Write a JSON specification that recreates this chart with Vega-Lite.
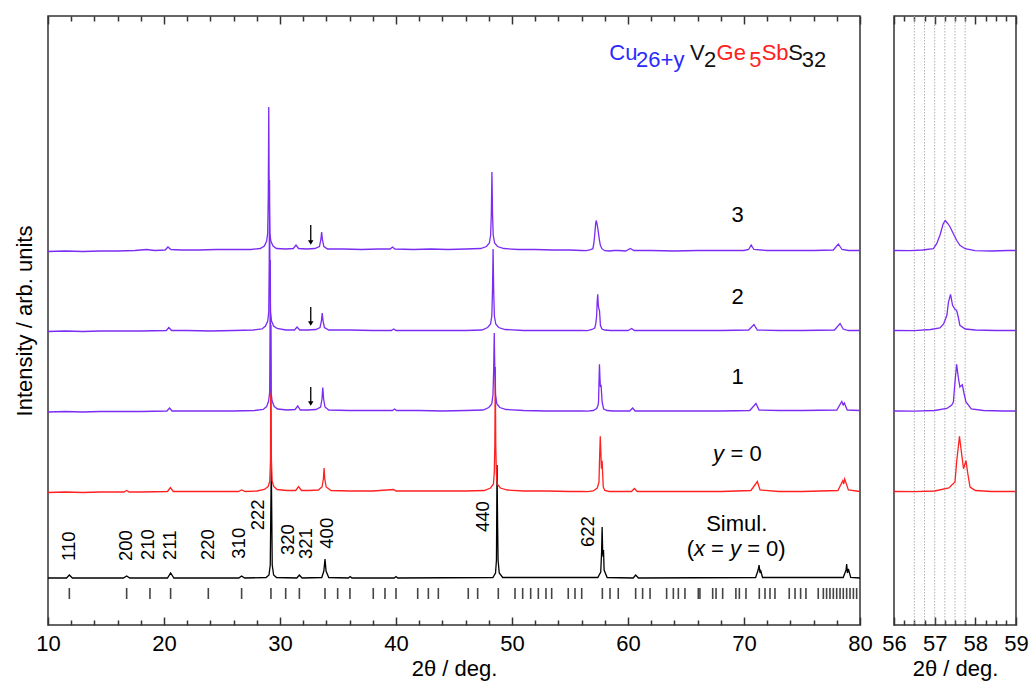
{
  "$schema": "https://vega.github.io/schema/vega-lite/v6.json",
  "background": "white",
  "padding": {"left": 12, "top": 14, "right": 2, "bottom": 5},
  "spacing": 34,
  "bounds": "flush",
  "config": {
    "font": "Liberation Sans",
    "view": {"stroke": "#333", "strokeWidth": 1.5},
    "axis": {"domain": false, "grid": false, "tickColor": "#333", "tickWidth": 1.5, "labelColor": "#000", "titleColor": "#000", "labelFontSize": 22, "titleFontSize": 22, "titleFontWeight": "normal", "labelFont": "Liberation Sans", "titleFont": "Liberation Sans", "labelFlush": false, "labelOverlap": false}
  },
  "datasets": {
    "xrd": [
      {"s":"3","x":10,"y":373.5},{"s":"3","x":11.5,"y":374},{"s":"3","x":13,"y":373.5},{"s":"3","x":14.5,"y":374},{"s":"3","x":16,"y":374},{"s":"3","x":17.5,"y":374.5},{"s":"3","x":18.5,"y":375.5},{"s":"3","x":19.2,"y":374.5},{"s":"3","x":20.1,"y":375},{"s":"3","x":20.34,"y":378},{"s":"3","x":20.6,"y":375.5},{"s":"3","x":21.5,"y":375},{"s":"3","x":23,"y":375},{"s":"3","x":24.5,"y":375.5},{"s":"3","x":26,"y":375.5},{"s":"3","x":27.5,"y":375.5},{"s":"3","x":28.3,"y":376.5},{"s":"3","x":28.65,"y":379},{"s":"3","x":28.85,"y":384},{"s":"3","x":28.94,"y":392},{"s":"3","x":28.99,"y":430},{"s":"3","x":29.03,"y":518},{"s":"3","x":29.07,"y":430},{"s":"3","x":29.12,"y":392},{"s":"3","x":29.21,"y":384},{"s":"3","x":29.4,"y":379},{"s":"3","x":29.7,"y":376.5},{"s":"3","x":30.5,"y":376},{"s":"3","x":31.15,"y":376.5},{"s":"3","x":31.38,"y":380},{"s":"3","x":31.6,"y":376.5},{"s":"3","x":32.3,"y":376},{"s":"3","x":33.0,"y":376.5},{"s":"3","x":33.4,"y":378.5},{"s":"3","x":33.52,"y":385},{"s":"3","x":33.59,"y":393},{"s":"3","x":33.66,"y":385},{"s":"3","x":33.78,"y":378.5},{"s":"3","x":34.1,"y":376},{"s":"3","x":35.5,"y":376},{"s":"3","x":37,"y":375.5},{"s":"3","x":38.5,"y":376},{"s":"3","x":39.5,"y":376},{"s":"3","x":39.7,"y":378},{"s":"3","x":39.9,"y":376},{"s":"3","x":41.5,"y":375.5},{"s":"3","x":43,"y":376},{"s":"3","x":44.5,"y":375.5},{"s":"3","x":46,"y":376},{"s":"3","x":47.3,"y":376.5},{"s":"3","x":47.8,"y":378.5},{"s":"3","x":48.05,"y":382},{"s":"3","x":48.16,"y":390},{"s":"3","x":48.22,"y":412},{"s":"3","x":48.27,"y":453},{"s":"3","x":48.32,"y":412},{"s":"3","x":48.38,"y":390},{"s":"3","x":48.5,"y":382},{"s":"3","x":48.75,"y":378.5},{"s":"3","x":49.3,"y":376.5},{"s":"3","x":50.5,"y":375.5},{"s":"3","x":52,"y":375.5},{"s":"3","x":53.5,"y":375},{"s":"3","x":55,"y":375},{"s":"3","x":56.0,"y":374.5},{"s":"3","x":56.4,"y":374.3},{"s":"3","x":56.7,"y":375},{"s":"3","x":56.97,"y":376.3},{"s":"3","x":57.05,"y":381.3},{"s":"3","x":57.13,"y":389.7},{"s":"3","x":57.21,"y":401.3},{"s":"3","x":57.26,"y":404.5},{"s":"3","x":57.32,"y":401.5},{"s":"3","x":57.38,"y":398},{"s":"3","x":57.46,"y":391.3},{"s":"3","x":57.54,"y":384.7},{"s":"3","x":57.62,"y":379.7},{"s":"3","x":57.75,"y":376.3},{"s":"3","x":57.99,"y":374.3},{"s":"3","x":58.4,"y":374},{"s":"3","x":58.8,"y":374.5},{"s":"3","x":59.2,"y":374.5},{"s":"3","x":59.8,"y":374},{"s":"3","x":60.2,"y":376.5},{"s":"3","x":60.5,"y":374.5},{"s":"3","x":62,"y":374.5},{"s":"3","x":64,"y":374},{"s":"3","x":66,"y":374.5},{"s":"3","x":68,"y":374.5},{"s":"3","x":70.0,"y":374.5},{"s":"3","x":70.4,"y":375.5},{"s":"3","x":70.62,"y":380},{"s":"3","x":70.85,"y":375.5},{"s":"3","x":72,"y":374.5},{"s":"3","x":74,"y":374.5},{"s":"3","x":76,"y":374.5},{"s":"3","x":77.7,"y":375},{"s":"3","x":78.13,"y":381},{"s":"3","x":78.45,"y":375.5},{"s":"3","x":79,"y":374.5},{"s":"3","x":80,"y":374.5},

      {"s":"2","x":10,"y":293.5},{"s":"2","x":11.5,"y":294},{"s":"2","x":13,"y":293.5},{"s":"2","x":14.5,"y":294},{"s":"2","x":16,"y":294},{"s":"2","x":18,"y":294},{"s":"2","x":20.2,"y":294.5},{"s":"2","x":20.42,"y":297.5},{"s":"2","x":20.65,"y":294.5},{"s":"2","x":22,"y":294.5},{"s":"2","x":24,"y":294},{"s":"2","x":26,"y":294.5},{"s":"2","x":27.7,"y":295},{"s":"2","x":28.45,"y":296},{"s":"2","x":28.75,"y":299},{"s":"2","x":28.94,"y":304},{"s":"2","x":29.03,"y":313},{"s":"2","x":29.07,"y":360},{"s":"2","x":29.1,"y":445},{"s":"2","x":29.13,"y":360},{"s":"2","x":29.18,"y":313},{"s":"2","x":29.27,"y":304},{"s":"2","x":29.45,"y":299},{"s":"2","x":29.75,"y":296.5},{"s":"2","x":30.5,"y":295},{"s":"2","x":31.25,"y":295},{"s":"2","x":31.47,"y":298},{"s":"2","x":31.7,"y":295},{"s":"2","x":32.4,"y":295},{"s":"2","x":33.1,"y":295.5},{"s":"2","x":33.45,"y":297.5},{"s":"2","x":33.57,"y":304},{"s":"2","x":33.64,"y":312},{"s":"2","x":33.71,"y":304},{"s":"2","x":33.83,"y":297.5},{"s":"2","x":34.2,"y":295},{"s":"2","x":36,"y":295},{"s":"2","x":38,"y":294.5},{"s":"2","x":39.6,"y":294.5},{"s":"2","x":39.8,"y":296},{"s":"2","x":40,"y":294.5},{"s":"2","x":42,"y":294.5},{"s":"2","x":44,"y":294.5},{"s":"2","x":46,"y":294.5},{"s":"2","x":47.4,"y":295},{"s":"2","x":47.9,"y":297.5},{"s":"2","x":48.15,"y":301},{"s":"2","x":48.26,"y":309},{"s":"2","x":48.32,"y":335},{"s":"2","x":48.37,"y":376},{"s":"2","x":48.42,"y":335},{"s":"2","x":48.48,"y":309},{"s":"2","x":48.6,"y":301},{"s":"2","x":48.85,"y":297.5},{"s":"2","x":49.4,"y":295.5},{"s":"2","x":51,"y":294.5},{"s":"2","x":53,"y":294.5},{"s":"2","x":55,"y":294.5},{"s":"2","x":56,"y":294.5},{"s":"2","x":56.5,"y":294.3},{"s":"2","x":56.9,"y":295.5},{"s":"2","x":57.13,"y":297},{"s":"2","x":57.22,"y":301},{"s":"2","x":57.3,"y":309.7},{"s":"2","x":57.34,"y":323},{"s":"2","x":57.39,"y":330.7},{"s":"2","x":57.44,"y":319.7},{"s":"2","x":57.5,"y":315.7},{"s":"2","x":57.54,"y":314.7},{"s":"2","x":57.58,"y":308},{"s":"2","x":57.62,"y":299.7},{"s":"2","x":57.75,"y":296},{"s":"2","x":58.0,"y":295},{"s":"2","x":58.5,"y":294.5},{"s":"2","x":59,"y":294.5},{"s":"2","x":60,"y":294.5},{"s":"2","x":60.32,"y":296.5},{"s":"2","x":60.55,"y":294.5},{"s":"2","x":62,"y":294.5},{"s":"2","x":64,"y":294.5},{"s":"2","x":66,"y":294.5},{"s":"2","x":68,"y":294.5},{"s":"2","x":70.4,"y":295},{"s":"2","x":70.86,"y":300.5},{"s":"2","x":71.15,"y":295},{"s":"2","x":73,"y":294.5},{"s":"2","x":75,"y":294.5},{"s":"2","x":77.8,"y":295},{"s":"2","x":78.28,"y":301.5},{"s":"2","x":78.55,"y":296},{"s":"2","x":79,"y":294.5},{"s":"2","x":80,"y":294.5},

      {"s":"1","x":10,"y":213},{"s":"1","x":11.5,"y":213.5},{"s":"1","x":13,"y":213},{"s":"1","x":14.5,"y":213.5},{"s":"1","x":16,"y":213.5},{"s":"1","x":18,"y":213.5},{"s":"1","x":20.25,"y":214},{"s":"1","x":20.48,"y":217},{"s":"1","x":20.7,"y":214},{"s":"1","x":22,"y":214},{"s":"1","x":24,"y":214},{"s":"1","x":26,"y":214},{"s":"1","x":27.8,"y":214.5},{"s":"1","x":28.55,"y":215.5},{"s":"1","x":28.85,"y":218.5},{"s":"1","x":29.02,"y":224},{"s":"1","x":29.11,"y":233},{"s":"1","x":29.14,"y":290},{"s":"1","x":29.16,"y":365},{"s":"1","x":29.19,"y":290},{"s":"1","x":29.23,"y":233},{"s":"1","x":29.32,"y":224},{"s":"1","x":29.5,"y":218.5},{"s":"1","x":29.8,"y":216},{"s":"1","x":30.6,"y":215},{"s":"1","x":31.3,"y":215.5},{"s":"1","x":31.53,"y":219},{"s":"1","x":31.75,"y":215},{"s":"1","x":32.4,"y":215},{"s":"1","x":33.1,"y":215.5},{"s":"1","x":33.5,"y":218},{"s":"1","x":33.62,"y":226},{"s":"1","x":33.69,"y":237.5},{"s":"1","x":33.76,"y":226},{"s":"1","x":33.88,"y":218},{"s":"1","x":34.2,"y":215},{"s":"1","x":36,"y":214.5},{"s":"1","x":38,"y":214.5},{"s":"1","x":39.7,"y":214.5},{"s":"1","x":39.88,"y":216},{"s":"1","x":40.05,"y":214.5},{"s":"1","x":42,"y":214.5},{"s":"1","x":44,"y":214},{"s":"1","x":46,"y":214.5},{"s":"1","x":47.5,"y":215},{"s":"1","x":48.0,"y":217.5},{"s":"1","x":48.25,"y":221},{"s":"1","x":48.36,"y":230},{"s":"1","x":48.42,"y":255},{"s":"1","x":48.47,"y":292},{"s":"1","x":48.52,"y":255},{"s":"1","x":48.58,"y":230},{"s":"1","x":48.7,"y":221},{"s":"1","x":48.95,"y":217.5},{"s":"1","x":49.5,"y":215.5},{"s":"1","x":51,"y":214.5},{"s":"1","x":53,"y":214},{"s":"1","x":55,"y":214},{"s":"1","x":56,"y":214},{"s":"1","x":56.5,"y":213.8},{"s":"1","x":57.0,"y":214.5},{"s":"1","x":57.3,"y":216.5},{"s":"1","x":57.42,"y":220},{"s":"1","x":57.46,"y":223},{"s":"1","x":57.5,"y":243},{"s":"1","x":57.54,"y":260.7},{"s":"1","x":57.58,"y":248},{"s":"1","x":57.62,"y":238},{"s":"1","x":57.68,"y":240.3},{"s":"1","x":57.72,"y":232},{"s":"1","x":57.77,"y":223},{"s":"1","x":57.9,"y":216},{"s":"1","x":58.2,"y":214.5},{"s":"1","x":58.7,"y":214},{"s":"1","x":59.2,"y":214},{"s":"1","x":60.15,"y":214},{"s":"1","x":60.4,"y":217},{"s":"1","x":60.62,"y":214},{"s":"1","x":62,"y":214},{"s":"1","x":64,"y":214},{"s":"1","x":66,"y":214},{"s":"1","x":68,"y":214},{"s":"1","x":70.5,"y":214.5},{"s":"1","x":71.03,"y":221.5},{"s":"1","x":71.3,"y":215},{"s":"1","x":73,"y":214.5},{"s":"1","x":75,"y":214.5},{"s":"1","x":78.0,"y":215},{"s":"1","x":78.43,"y":223.5},{"s":"1","x":78.55,"y":220},{"s":"1","x":78.65,"y":222},{"s":"1","x":78.9,"y":215},{"s":"1","x":80,"y":214.5},

      {"s":"0","x":10,"y":132.5},{"s":"0","x":11.5,"y":133},{"s":"0","x":13,"y":132.5},{"s":"0","x":14.5,"y":133},{"s":"0","x":16.55,"y":133},{"s":"0","x":16.78,"y":134.5},{"s":"0","x":17,"y":133},{"s":"0","x":18,"y":133},{"s":"0","x":20.3,"y":133.5},{"s":"0","x":20.55,"y":137.5},{"s":"0","x":20.8,"y":133.5},{"s":"0","x":22,"y":133.5},{"s":"0","x":24,"y":133.5},{"s":"0","x":26.4,"y":133.5},{"s":"0","x":26.7,"y":135},{"s":"0","x":27,"y":133.5},{"s":"0","x":28.0,"y":134},{"s":"0","x":28.65,"y":135.5},{"s":"0","x":28.98,"y":138.5},{"s":"0","x":29.12,"y":144},{"s":"0","x":29.18,"y":165},{"s":"0","x":29.22,"y":300},{"s":"0","x":29.26,"y":165},{"s":"0","x":29.32,"y":144},{"s":"0","x":29.46,"y":138.5},{"s":"0","x":29.75,"y":135.5},{"s":"0","x":30.6,"y":134.5},{"s":"0","x":31.35,"y":134.5},{"s":"0","x":31.6,"y":138.5},{"s":"0","x":31.85,"y":134.5},{"s":"0","x":32.5,"y":134.5},{"s":"0","x":33.3,"y":135},{"s":"0","x":33.62,"y":138},{"s":"0","x":33.74,"y":146},{"s":"0","x":33.8,"y":157},{"s":"0","x":33.86,"y":146},{"s":"0","x":33.98,"y":138},{"s":"0","x":34.4,"y":134.5},{"s":"0","x":36,"y":134},{"s":"0","x":38,"y":134},{"s":"0","x":39.8,"y":135.5},{"s":"0","x":40.0,"y":134},{"s":"0","x":42,"y":134},{"s":"0","x":44,"y":134},{"s":"0","x":46,"y":134},{"s":"0","x":47.6,"y":134.5},{"s":"0","x":48.15,"y":137},{"s":"0","x":48.4,"y":141},{"s":"0","x":48.47,"y":152},{"s":"0","x":48.52,"y":180},{"s":"0","x":48.56,"y":258},{"s":"0","x":48.6,"y":180},{"s":"0","x":48.65,"y":152},{"s":"0","x":48.72,"y":141},{"s":"0","x":49.0,"y":137},{"s":"0","x":49.6,"y":135},{"s":"0","x":51,"y":134},{"s":"0","x":53,"y":134},{"s":"0","x":55,"y":133.5},{"s":"0","x":56,"y":133.5},{"s":"0","x":56.5,"y":133.3},{"s":"0","x":57.0,"y":134},{"s":"0","x":57.35,"y":137},{"s":"0","x":57.5,"y":143},{"s":"0","x":57.54,"y":163},{"s":"0","x":57.61,"y":188.7},{"s":"0","x":57.66,"y":172},{"s":"0","x":57.71,"y":156.3},{"s":"0","x":57.77,"y":164.3},{"s":"0","x":57.82,"y":150},{"s":"0","x":57.87,"y":138},{"s":"0","x":58.0,"y":134.5},{"s":"0","x":58.4,"y":133.5},{"s":"0","x":59,"y":133.5},{"s":"0","x":60.3,"y":133.5},{"s":"0","x":60.55,"y":136.5},{"s":"0","x":60.8,"y":133.5},{"s":"0","x":62,"y":133.5},{"s":"0","x":64,"y":133.5},{"s":"0","x":66,"y":133.5},{"s":"0","x":68,"y":133.5},{"s":"0","x":70.6,"y":134.5},{"s":"0","x":71.15,"y":143.5},{"s":"0","x":71.38,"y":135},{"s":"0","x":73,"y":133.5},{"s":"0","x":75,"y":133.5},{"s":"0","x":78.1,"y":134.5},{"s":"0","x":78.52,"y":144.5},{"s":"0","x":78.6,"y":141},{"s":"0","x":78.68,"y":146},{"s":"0","x":79.0,"y":135},{"s":"0","x":80,"y":133.5},

      {"s":"sim","x":10,"y":47},{"s":"sim","x":11.6,"y":47},{"s":"sim","x":11.84,"y":50},{"s":"sim","x":12.1,"y":47},{"s":"sim","x":16.5,"y":47},{"s":"sim","x":16.78,"y":49},{"s":"sim","x":17.05,"y":47},{"s":"sim","x":20.3,"y":47},{"s":"sim","x":20.57,"y":52},{"s":"sim","x":20.85,"y":47},{"s":"sim","x":26.45,"y":47},{"s":"sim","x":26.69,"y":49},{"s":"sim","x":26.95,"y":47},{"s":"sim","x":28.8,"y":47.5},{"s":"sim","x":29.05,"y":50},{"s":"sim","x":29.16,"y":60},{"s":"sim","x":29.25,"y":160},{"s":"sim","x":29.33,"y":60},{"s":"sim","x":29.45,"y":50},{"s":"sim","x":29.7,"y":47.5},{"s":"sim","x":31.45,"y":47},{"s":"sim","x":31.67,"y":50},{"s":"sim","x":31.9,"y":47},{"s":"sim","x":33.6,"y":47.5},{"s":"sim","x":33.78,"y":54},{"s":"sim","x":33.88,"y":66},{"s":"sim","x":33.97,"y":54},{"s":"sim","x":34.2,"y":47.5},{"s":"sim","x":35.9,"y":47},{"s":"sim","x":36.05,"y":48.5},{"s":"sim","x":36.2,"y":47},{"s":"sim","x":39.85,"y":47},{"s":"sim","x":40.0,"y":48.5},{"s":"sim","x":40.15,"y":47},{"s":"sim","x":48.35,"y":47.5},{"s":"sim","x":48.58,"y":52},{"s":"sim","x":48.66,"y":65},{"s":"sim","x":48.71,"y":160},{"s":"sim","x":48.76,"y":100},{"s":"sim","x":48.8,"y":65},{"s":"sim","x":48.9,"y":52},{"s":"sim","x":49.2,"y":47.5},{"s":"sim","x":57.4,"y":47.5},{"s":"sim","x":57.65,"y":53},{"s":"sim","x":57.72,"y":72},{"s":"sim","x":57.77,"y":98},{"s":"sim","x":57.82,"y":72},{"s":"sim","x":57.86,"y":68},{"s":"sim","x":57.89,"y":75},{"s":"sim","x":57.94,"y":55},{"s":"sim","x":58.2,"y":47.5},{"s":"sim","x":60.45,"y":47},{"s":"sim","x":60.66,"y":50},{"s":"sim","x":60.9,"y":47},{"s":"sim","x":71.0,"y":47.5},{"s":"sim","x":71.22,"y":55},{"s":"sim","x":71.3,"y":60},{"s":"sim","x":71.38,"y":52},{"s":"sim","x":71.45,"y":54},{"s":"sim","x":71.6,"y":47.5},{"s":"sim","x":78.55,"y":47.5},{"s":"sim","x":78.8,"y":55},{"s":"sim","x":78.85,"y":61},{"s":"sim","x":78.92,"y":52},{"s":"sim","x":79.0,"y":56},{"s":"sim","x":79.2,"y":47.5},{"s":"sim","x":80,"y":47}
    ],
    "refl": [
      {"x":11.84},{"x":16.78},{"x":18.79},{"x":20.57},{"x":23.82},{"x":26.69},{"x":29.22},{"x":30.49},{"x":31.67},{"x":33.88},{"x":34.97},{"x":36.03},{"x":38.04},{"x":39.05},{"x":40.0},{"x":41.87},{"x":42.79},{"x":43.65},{"x":46.23},{"x":47.04},{"x":48.82},{"x":50.26},{"x":50.92},{"x":51.61},{"x":52.27},{"x":52.93},{"x":53.42},{"x":54.85},{"x":55.43},{"x":56.01},{"x":57.79},{"x":58.45},{"x":59.16},{"x":60.66},{"x":61.26},{"x":61.9},{"x":63.33},{"x":63.91},{"x":64.34},{"x":64.91},{"x":66.06},{"x":66.2},{"x":67.3},{"x":67.59},{"x":68.16},{"x":69.3},{"x":69.6},{"x":70.17},{"x":71.32},{"x":71.81},{"x":72.24},{"x":72.67},{"x":73.9},{"x":74.4},{"x":74.88},{"x":75.34},{"x":76.4},{"x":76.84},{"x":77.12},{"x":77.41},{"x":77.7},{"x":77.99},{"x":78.28},{"x":78.56},{"x":78.85},{"x":79.14},{"x":79.43},{"x":79.71}
    ],
    "hkl": [
      {"t":"110","x":11.84,"y":64},{"t":"200","x":16.72,"y":64},{"t":"210","x":18.6,"y":65},{"t":"211","x":20.54,"y":65},{"t":"220","x":23.78,"y":65},{"t":"310","x":26.45,"y":66.3},{"t":"222","x":28.1,"y":94.7},{"t":"320","x":30.69,"y":70},{"t":"321","x":32.27,"y":66},{"t":"400","x":34.02,"y":76.3},{"t":"440","x":47.53,"y":93},{"t":"622","x":56.58,"y":78}
    ],
    "centered": [
      {"t":"3","x":69.45,"y":410},{"t":"2","x":69.45,"y":328},{"t":"1","x":69.45,"y":248},{"t":"Simul.","x":69.37,"y":101.3}
    ],
    "plain": [
      {"t":"(","x":65.06,"y":76.3},{"t":"=","x":67.16,"y":76.3},{"t":"= 0)","x":70.27,"y":76.3},{"t":"= 0","x":68.83,"y":171.3}
    ],
    "ital": [
      {"t":"x","x":65.69,"y":76.3},{"t":"y","x":68.79,"y":76.3},{"t":"y","x":67.33,"y":171.3}
    ],
    "formula": [
      {"t":"Cu","x":58.39,"c":"blue","part":"main"},{"t":"26+y","x":60.7,"c":"blue","part":"sub"},{"t":"V","x":65.34,"c":"black","part":"main"},{"t":"2","x":66.55,"c":"black","part":"sub"},{"t":"Ge","x":67.64,"c":"red","part":"main"},{"t":"5","x":70.46,"c":"red","part":"sub"},{"t":"Sb","x":71.52,"c":"red","part":"main"},{"t":"S","x":73.82,"c":"black","part":"main"},{"t":"32","x":74.97,"c":"black","part":"sub"}
    ],
    "arrows": [
      {"x":32.65,"top":400,"head":382.5},{"x":32.65,"top":318,"head":301.5},{"x":32.65,"top":238,"head":221.5}
    ],
    "grid": [
      {"x":56.5},{"x":56.75},{"x":57.0},{"x":57.25},{"x":57.5},{"x":57.75}
    ]
  },
  "hconcat": [
    {
      "width": 812,
      "height": 609,
      "resolve": {"axis": {"x": "independent", "y": "independent"}},
      "layer": [
        {
          "data": {"name": "xrd"},
          "transform": [{"filter": "datum.s == 'sim'"}],
          "mark": {"type": "line", "color": "#000", "strokeWidth": 1.3},
          "encoding": {
            "x": {"field": "x", "type": "quantitative", "scale": {"domain": [10, 80], "nice": false, "zero": false},
                  "axis": {"orient": "bottom", "values": [10,20,30,40,50,60,70,80], "tickSize": -8, "labelPadding": 16, "title": "2θ / deg.", "titlePadding": 4}},
            "y": {"field": "y", "type": "quantitative", "scale": {"domain": [0, 609], "nice": false, "zero": false},
                  "axis": {"orient": "left", "ticks": false, "labels": false, "title": "Intensity / arb. units", "titlePadding": 12}}
          }
        },
        {
          "data": {"name": "xrd"},
          "transform": [{"filter": "datum.s == '0'"}],
          "mark": {"type": "line", "color": "#ff2020", "strokeWidth": 1.3},
          "encoding": {
            "x": {"field": "x", "type": "quantitative", "scale": {"domain": [10, 80], "nice": false, "zero": false},
                  "axis": {"orient": "top", "values": [10,20,30,40,50,60,70,80], "tickSize": -8, "labels": false, "title": null}},
            "y": {"field": "y", "type": "quantitative", "axis": null}
          }
        },
        {
          "data": {"name": "xrd"},
          "transform": [{"filter": "datum.s == '1' || datum.s == '2' || datum.s == '3'"}],
          "mark": {"type": "line", "color": "#7b2cf2", "strokeWidth": 1.3},
          "encoding": {
            "detail": {"field": "s", "type": "nominal"},
            "x": {"field": "x", "type": "quantitative", "scale": {"domain": [10, 80], "nice": false, "zero": false},
                  "axis": {"orient": "bottom", "values": [12,14,16,18,22,24,26,28,32,34,36,38,42,44,46,48,52,54,56,58,62,64,66,68,72,74,76,78], "tickSize": -5, "labels": false, "title": null}},
            "y": {"field": "y", "type": "quantitative", "axis": null}
          }
        },
        {
          "data": {"name": "refl"},
          "mark": {"type": "rule", "color": "#444", "strokeWidth": 1.6},
          "encoding": {
            "x": {"field": "x", "type": "quantitative", "scale": {"domain": [10, 80], "nice": false, "zero": false},
                  "axis": {"orient": "top", "values": [12,14,16,18,22,24,26,28,32,34,36,38,42,44,46,48,52,54,56,58,62,64,66,68,72,74,76,78], "tickSize": -5, "labels": false, "title": null}},
            "y": {"datum": 26, "type": "quantitative", "axis": null},
            "y2": {"datum": 37}
          }
        },
        {
          "data": {"name": "hkl"},
          "mark": {"type": "text", "angle": 270, "align": "left", "baseline": "middle", "fontSize": 18.5, "color": "#000"},
          "encoding": {
            "x": {"field": "x", "type": "quantitative", "axis": null},
            "y": {"field": "y", "type": "quantitative", "axis": null},
            "text": {"field": "t"}
          }
        },
        {
          "data": {"name": "centered"},
          "mark": {"type": "text", "align": "center", "baseline": "middle", "fontSize": 22, "color": "#000"},
          "encoding": {
            "x": {"field": "x", "type": "quantitative", "axis": null},
            "y": {"field": "y", "type": "quantitative", "axis": null},
            "text": {"field": "t"}
          }
        },
        {
          "data": {"name": "plain"},
          "mark": {"type": "text", "align": "left", "baseline": "middle", "fontSize": 22, "color": "#000"},
          "encoding": {
            "x": {"field": "x", "type": "quantitative", "axis": null},
            "y": {"field": "y", "type": "quantitative", "axis": null},
            "text": {"field": "t"}
          }
        },
        {
          "data": {"name": "ital"},
          "mark": {"type": "text", "align": "left", "baseline": "middle", "fontSize": 22, "fontStyle": "italic", "color": "#000"},
          "encoding": {
            "x": {"field": "x", "type": "quantitative", "axis": null},
            "y": {"field": "y", "type": "quantitative", "axis": null},
            "text": {"field": "t"}
          }
        },
        {
          "data": {"name": "formula"},
          "transform": [{"filter": "datum.part == 'main'"}],
          "mark": {"type": "text", "align": "left", "baseline": "alphabetic", "fontSize": 22},
          "encoding": {
            "x": {"field": "x", "type": "quantitative", "axis": null},
            "y": {"datum": 565, "type": "quantitative", "axis": null},
            "text": {"field": "t"},
            "color": {"field": "c", "type": "nominal", "legend": null, "scale": {"domain": ["blue", "black", "red"], "range": ["#2a2aff", "#111111", "#ff2020"]}}
          }
        },
        {
          "data": {"name": "formula"},
          "transform": [{"filter": "datum.part == 'sub'"}],
          "mark": {"type": "text", "align": "left", "baseline": "alphabetic", "fontSize": 22},
          "encoding": {
            "x": {"field": "x", "type": "quantitative", "axis": null},
            "y": {"datum": 558, "type": "quantitative", "axis": null},
            "text": {"field": "t"},
            "color": {"field": "c", "type": "nominal", "legend": null, "scale": {"domain": ["blue", "black", "red"], "range": ["#2a2aff", "#111111", "#ff2020"]}}
          }
        },
        {
          "data": {"name": "arrows"},
          "mark": {"type": "rule", "color": "#000", "strokeWidth": 1.3},
          "encoding": {
            "x": {"field": "x", "type": "quantitative", "axis": null},
            "y": {"field": "top", "type": "quantitative", "axis": null},
            "y2": {"field": "head"}
          }
        },
        {
          "data": {"name": "arrows"},
          "mark": {"type": "point", "shape": "triangle-down", "filled": true, "color": "#000", "size": 30, "opacity": 1},
          "encoding": {
            "x": {"field": "x", "type": "quantitative", "axis": null},
            "y": {"field": "head", "type": "quantitative", "axis": null}
          }
        }
      ]
    },
    {
      "width": 122,
      "height": 609,
      "resolve": {"axis": {"x": "independent", "y": "independent"}},
      "layer": [
        {
          "data": {"name": "grid"},
          "transform": [{"filter": "datum.x <= 57"}],
          "mark": {"type": "rule", "color": "#b0b0b0", "strokeWidth": 1, "strokeDash": [1.5, 1.5]},
          "encoding": {
            "x": {"field": "x", "type": "quantitative", "scale": {"domain": [56, 59], "nice": false, "zero": false},
                  "axis": {"orient": "bottom", "values": [56,57,58,59], "tickSize": -8, "labelPadding": 16, "title": "2θ / deg.", "titlePadding": 4}}
          }
        },
        {
          "data": {"name": "grid"},
          "transform": [{"filter": "datum.x > 57"}],
          "mark": {"type": "rule", "color": "#b0b0b0", "strokeWidth": 1, "strokeDash": [1.5, 1.5]},
          "encoding": {
            "x": {"field": "x", "type": "quantitative", "scale": {"domain": [56, 59], "nice": false, "zero": false},
                  "axis": {"orient": "top", "values": [56,57,58,59], "tickSize": -8, "labels": false, "title": null}}
          }
        },
        {
          "data": {"name": "xrd"},
          "transform": [{"filter": "datum.s == '0'"}, {"filter": {"field": "x", "range": [55, 60]}}],
          "mark": {"type": "line", "color": "#ff2020", "strokeWidth": 1.3, "clip": true},
          "encoding": {
            "x": {"field": "x", "type": "quantitative", "scale": {"domain": [56, 59], "nice": false, "zero": false},
                  "axis": {"orient": "bottom", "values": [56.25,56.5,56.75,57.25,57.5,57.75,58.25,58.5,58.75], "tickSize": -5, "labels": false, "title": null}},
            "y": {"field": "y", "type": "quantitative", "scale": {"domain": [0, 609], "nice": false, "zero": false}, "axis": null}
          }
        },
        {
          "data": {"name": "xrd"},
          "transform": [{"filter": "datum.s == '1' || datum.s == '2' || datum.s == '3'"}, {"filter": {"field": "x", "range": [55, 60]}}],
          "mark": {"type": "line", "color": "#7b2cf2", "strokeWidth": 1.3, "clip": true},
          "encoding": {
            "detail": {"field": "s", "type": "nominal"},
            "x": {"field": "x", "type": "quantitative", "scale": {"domain": [56, 59], "nice": false, "zero": false},
                  "axis": {"orient": "top", "values": [56.25,56.5,56.75,57.25,57.5,57.75,58.25,58.5,58.75], "tickSize": -5, "labels": false, "title": null}},
            "y": {"field": "y", "type": "quantitative", "axis": null}
          }
        }
      ]
    }
  ]
}
